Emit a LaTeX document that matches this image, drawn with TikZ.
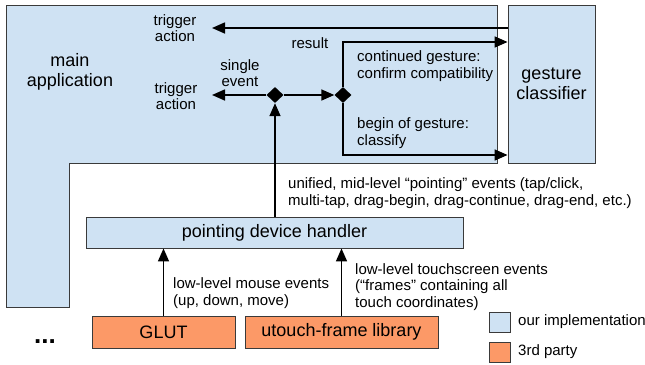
\documentclass[tikz,border=0pt]{standalone}
\usepackage{fontspec}
\setmainfont{Liberation Sans}
\usetikzlibrary{arrows.meta,shapes.geometric}
\definecolor{ourblue}{HTML}{CFE2F3}
\definecolor{thirdorange}{HTML}{FC9967}
\definecolor{edgegray}{HTML}{3A3A3A}
\tikzset{
  x=1pt,y=-1pt,
  box/.style={draw=edgegray,line width=0.9pt,fill=ourblue,inner sep=0pt,align=center,font=\fontsize{18}{20}\selectfont},
  obox/.style={box,fill=thirdorange},
  lbl/.style={inner sep=0pt,align=left,font=\fontsize{15}{16.5}\selectfont},
  clbl/.style={inner sep=0pt,align=center,font=\fontsize{15}{16.5}\selectfont},
  dmd/.style={diamond,fill=black,inner sep=0pt,minimum width=17pt,minimum height=16pt},
  arr/.style={line width=1.6pt,-{Triangle[length=13pt,width=11pt]}},
}
\begin{document}
\begin{tikzpicture}
\useasboundingbox (0,0) rectangle (645,364);
% main application L-shape
\draw[draw=edgegray,line width=0.9pt,fill=ourblue] (6,5) -- (497,5) -- (497,163) -- (69,163) -- (69,307) -- (6,307) -- cycle;
\node[inner sep=0pt,align=center,font=\fontsize{18}{20}\selectfont] (main) at (70,72) {main\\application};
% gesture classifier
\node[box,minimum width=87pt,minimum height=158pt] (gc) at (551.5,84) {gesture\\classifier};
% pointing device handler
\node[box,minimum width=377pt,minimum height=31pt] (pdh) at (274.5,232.5) {pointing device handler};
% third party
\node[obox,minimum width=143pt,minimum height=32pt] (glut) at (163.5,332) {GLUT};
\node[obox,minimum width=193pt,minimum height=32pt] (ut) at (341.5,332) {utouch-frame library};
% diamonds
\node[dmd] (d1) at (275,95) {};
\node[dmd] (d2) at (343,95) {};
% free ends
\coordinate (ta1) at (212,28);
\coordinate (ta2) at (212,95);
% labels
\node[clbl] (t1) at (175,28) {trigger\\action};
\node[clbl] (t2) at (176,96) {trigger\\action};
\node[clbl] (se) at (240,73) {single\\event};
\node[clbl] (res) at (310,43) {result};
\node[lbl,anchor=west] (cg) at (357,66) {continued gesture:\\confirm compatibility};
\node[lbl,anchor=west] (bg) at (357,133) {begin of gesture:\\classify};
\node[lbl,anchor=west] (uni) at (288,193) {unified, mid-level “pointing” events (tap/click,\\multi-tap, drag-begin, drag-continue, drag-end, etc.)};
\node[lbl,anchor=west] (lm) at (173,293) {low-level mouse events\\(up, down, move)};
\node[lbl,anchor=west] (lt) at (355,287) {low-level touchscreen events\\(“frames” containing all\\touch coordinates)};
% connectors
\draw[arr] (gc.west |- ta1) -- (ta1);
\draw[arr] (d1.west) -- (ta2);
\draw[arr] (d1.east) -- (d2.west);
\draw[arr] (d2.north) |- (gc.west |- 0,42);
\draw[arr] (d2.south) |- (gc.west |- 0,155);
\draw[arr] (pdh.north -| d1) -- (d1.south);
\draw[arr] (glut.north) -- (glut.north |- pdh.south);
\draw[arr] (ut.north) -- (ut.north |- pdh.south);
% legend
\node[box,minimum width=21pt,minimum height=20pt] (lg1) at (499.5,322) {};
\node[obox,minimum width=21pt,minimum height=20pt] (lg2) at (499.5,352) {};
\node[lbl,anchor=west] (lg1t) at (518,322) {our implementation};
\node[lbl,anchor=west] (lg2t) at (518,352) {3rd party};
% dots
\node[inner sep=0pt,font=\fontsize{26}{28}\selectfont\bfseries] (dots) at (45,342) {...};
\end{tikzpicture}
\end{document}
